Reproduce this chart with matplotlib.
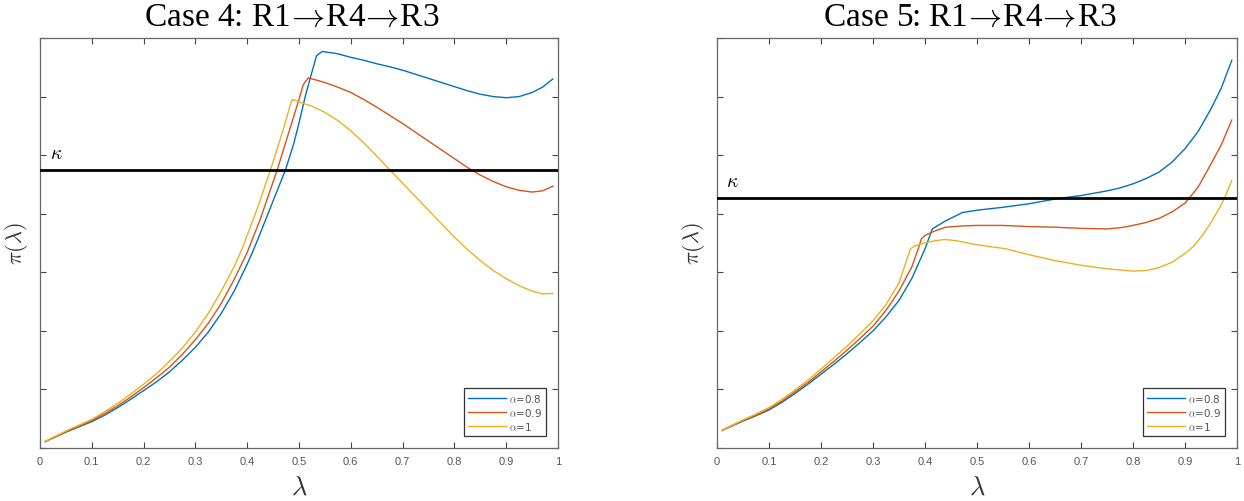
import matplotlib
matplotlib.use("Agg")
import matplotlib.pyplot as plt

plt.rcParams['mathtext.fontset'] = 'cm'

# ---------------- data ----------------
kappa_case4 = 4.75
kappa_case5 = 4.26

# Case 4
c4_x_a08 = [0.01, 0.025, 0.05, 0.075, 0.10, 0.125, 0.15, 0.175, 0.20, 0.225, 0.25, 0.275, 0.30, 0.325, 0.35, 0.375, 0.40, 0.412, 0.425, 0.45, 0.474, 0.49, 0.50, 0.512, 0.525, 0.534, 0.545, 0.575, 0.60, 0.625, 0.65, 0.675, 0.70, 0.725, 0.75, 0.775, 0.80, 0.825, 0.85, 0.875, 0.90, 0.925, 0.95, 0.97, 0.99]
c4_y_a08 = [0.11, 0.17, 0.27, 0.36, 0.45, 0.56, 0.69, 0.83, 0.98, 1.13, 1.30, 1.50, 1.72, 1.98, 2.30, 2.68, 3.14, 3.38, 3.66, 4.22, 4.75, 5.20, 5.55, 6.00, 6.42, 6.70, 6.77, 6.73, 6.67, 6.62, 6.56, 6.51, 6.45, 6.38, 6.31, 6.24, 6.17, 6.10, 6.04, 6.00, 5.98, 6.00, 6.07, 6.16, 6.30]

c4_x_a09 = [0.01, 0.025, 0.05, 0.075, 0.10, 0.125, 0.15, 0.175, 0.20, 0.225, 0.25, 0.275, 0.30, 0.325, 0.35, 0.375, 0.40, 0.425, 0.458, 0.48, 0.50, 0.508, 0.518, 0.55, 0.575, 0.60, 0.625, 0.65, 0.675, 0.70, 0.725, 0.75, 0.775, 0.80, 0.825, 0.85, 0.875, 0.90, 0.925, 0.95, 0.97, 0.99]
c4_y_a09 = [0.11, 0.17, 0.28, 0.37, 0.47, 0.59, 0.72, 0.87, 1.03, 1.20, 1.38, 1.60, 1.85, 2.13, 2.47, 2.88, 3.34, 3.90, 4.75, 5.38, 5.95, 6.20, 6.32, 6.24, 6.16, 6.07, 5.95, 5.82, 5.68, 5.54, 5.39, 5.24, 5.09, 4.94, 4.79, 4.66, 4.55, 4.46, 4.40, 4.37, 4.39, 4.47]

c4_x_a10 = [0.01, 0.025, 0.05, 0.075, 0.10, 0.125, 0.15, 0.175, 0.20, 0.225, 0.25, 0.275, 0.30, 0.325, 0.35, 0.375, 0.391, 0.42, 0.445, 0.47, 0.483, 0.487, 0.50, 0.525, 0.55, 0.575, 0.60, 0.625, 0.65, 0.672, 0.70, 0.725, 0.75, 0.775, 0.80, 0.825, 0.85, 0.875, 0.90, 0.925, 0.95, 0.97, 0.99]
c4_y_a10 = [0.11, 0.18, 0.29, 0.39, 0.49, 0.62, 0.76, 0.92, 1.09, 1.27, 1.48, 1.71, 1.98, 2.30, 2.68, 3.10, 3.42, 4.10, 4.75, 5.45, 5.85, 5.95, 5.91, 5.835, 5.73, 5.59, 5.415, 5.21, 4.985, 4.78, 4.52, 4.29, 4.06, 3.83, 3.60, 3.39, 3.20, 3.03, 2.89, 2.77, 2.68, 2.63, 2.64]

# Case 5
c5_x_a08 = [0.01, 0.025, 0.05, 0.075, 0.10, 0.125, 0.15, 0.175, 0.20, 0.225, 0.25, 0.275, 0.30, 0.325, 0.35, 0.375, 0.40, 0.414, 0.44, 0.472, 0.50, 0.55, 0.60, 0.656, 0.70, 0.75, 0.775, 0.80, 0.825, 0.85, 0.875, 0.90, 0.925, 0.95, 0.97, 0.99]
c5_y_a08 = [0.30, 0.36, 0.46, 0.55, 0.65, 0.78, 0.93, 1.09, 1.26, 1.43, 1.61, 1.80, 2.00, 2.24, 2.52, 2.90, 3.40, 3.74, 3.88, 4.02, 4.06, 4.11, 4.17, 4.26, 4.31, 4.39, 4.44, 4.51, 4.60, 4.71, 4.88, 5.11, 5.40, 5.79, 6.15, 6.62]

c5_x_a09 = [0.01, 0.025, 0.05, 0.075, 0.10, 0.125, 0.15, 0.175, 0.20, 0.225, 0.25, 0.275, 0.30, 0.325, 0.35, 0.375, 0.387, 0.393, 0.40, 0.42, 0.44, 0.47, 0.50, 0.55, 0.60, 0.65, 0.70, 0.75, 0.775, 0.80, 0.825, 0.85, 0.875, 0.90, 0.925, 0.95, 0.97, 0.99]
c5_y_a09 = [0.30, 0.37, 0.47, 0.56, 0.67, 0.80, 0.96, 1.12, 1.30, 1.48, 1.67, 1.87, 2.08, 2.35, 2.68, 3.10, 3.40, 3.57, 3.63, 3.71, 3.77, 3.79, 3.80, 3.80, 3.78, 3.77, 3.75, 3.74, 3.76, 3.80, 3.85, 3.92, 4.03, 4.18, 4.45, 4.85, 5.18, 5.60]

c5_x_a10 = [0.01, 0.025, 0.05, 0.075, 0.10, 0.125, 0.15, 0.175, 0.20, 0.225, 0.25, 0.275, 0.30, 0.325, 0.35, 0.372, 0.38, 0.40, 0.42, 0.437, 0.46, 0.50, 0.556, 0.60, 0.65, 0.70, 0.75, 0.80, 0.825, 0.85, 0.875, 0.90, 0.917, 0.935, 0.95, 0.965, 0.976, 0.99]
c5_y_a10 = [0.30, 0.37, 0.48, 0.58, 0.69, 0.83, 0.99, 1.16, 1.35, 1.54, 1.74, 1.95, 2.17, 2.45, 2.82, 3.40, 3.45, 3.50, 3.54, 3.56, 3.54, 3.47, 3.40, 3.30, 3.20, 3.12, 3.06, 3.02, 3.03, 3.08, 3.17, 3.32, 3.45, 3.65, 3.85, 4.08, 4.26, 4.57]

legend_labels = [r'$\alpha$=0.8', r'$\alpha$=0.9', r'$\alpha$=1']
titles = [r'Case 4: R1$\!\rightarrow\!$R4$\!\rightarrow\!$R3', r'Case 5: R1$\!\rightarrow\!$R4$\!\rightarrow\!$R3']
xticks = [0, 0.1, 0.2, 0.3, 0.4, 0.5, 0.6, 0.7, 0.8, 0.9, 1]
xticklabels = ['0', '0.1', '0.2', '0.3', '0.4', '0.5', '0.6', '0.7', '0.8', '0.9', '1']
yticks = [0, 1, 2, 3, 4, 5, 6, 7]

colors = ['#0072BD', '#D95319', '#EDB120']

panels = [
    dict(title=titles[0], kappa=kappa_case4,
         series=[(c4_x_a08, c4_y_a08), (c4_x_a09, c4_y_a09), (c4_x_a10, c4_y_a10)],
         kx=0.02, ky=4.88),
    dict(title=titles[1], kappa=kappa_case5,
         series=[(c5_x_a08, c5_y_a08), (c5_x_a09, c5_y_a09), (c5_x_a10, c5_y_a10)],
         kx=0.018, ky=4.40),
]

W, H = 1244, 502
fig = plt.figure(figsize=(W / 100, H / 100), dpi=100)
axes_px = [(40, 39, 518, 410), (717, 39, 520, 410)]

for (x0, top, w, h), p in zip(axes_px, panels):
    ax = fig.add_axes([x0 / W, (H - top - h) / H, w / W, h / H])
    ax.axhline(p['kappa'], color='black', lw=2.0, zorder=3)
    for (xs, ys), c, lab in zip(p['series'], colors, legend_labels):
        ax.plot(xs, ys, color=c, lw=1.0, label=lab, zorder=2)
    ax.text(p['kx'], p['ky'], r'$\kappa$', fontsize=14, ha='left', va='bottom')
    ax.set_xlim(0, 1)
    ax.set_ylim(0, 7)
    ax.set_xticks(xticks)
    ax.set_xticklabels(xticklabels, family='Liberation Sans')
    ax.set_yticks(yticks)
    ax.set_yticklabels([])
    ax.tick_params(direction='in', top=True, right=True, length=4, width=0.8,
                   color='#444444', labelsize=8, labelcolor='#555555', pad=6)
    for s in ax.spines.values():
        s.set_color('#666666')
        s.set_linewidth(0.9)
    ax.set_title(p['title'], family=['Liberation Serif', 'DejaVu Serif'],
                 fontsize=24, pad=9, x=0.487)
    ax.set_xlabel(r'$\lambda$', fontsize=19, labelpad=5, color='#333333')
    ax.set_ylabel(r'$\pi(\lambda)$', fontsize=16, labelpad=1, color='#333333')
    leg = ax.legend(loc='lower right', fontsize=7.5, handlelength=3.6,
                    fancybox=False, edgecolor='#333333', framealpha=1,
                    borderaxespad=1.2, labelspacing=0.2, borderpad=0.35,
                    handletextpad=0.3)
    leg.get_frame().set_linewidth(0.9)
    for t in leg.get_texts():
        t.set_color('#555555')

fig.savefig('out.png', dpi=100)
